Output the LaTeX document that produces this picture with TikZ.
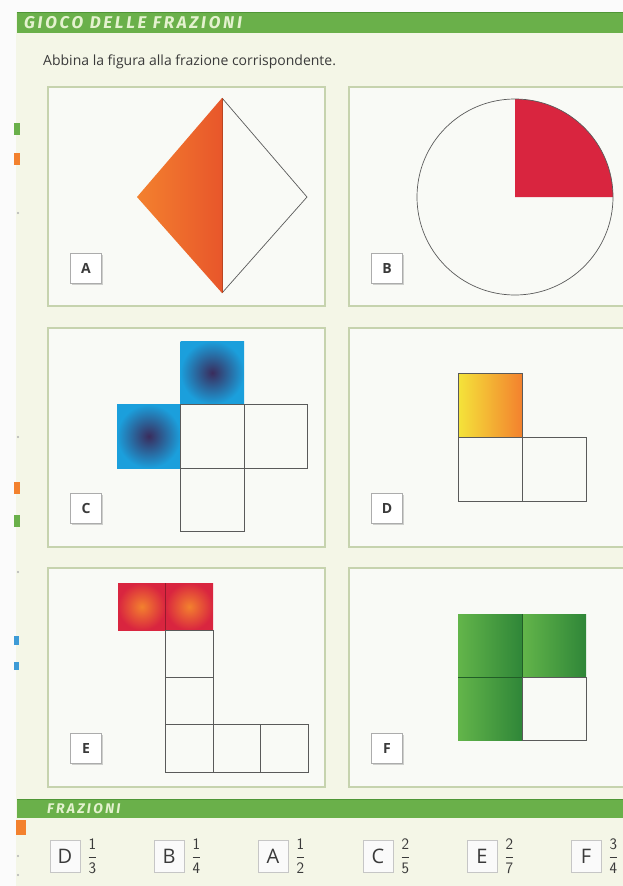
\documentclass[tikz,border=0pt]{standalone}
\usepackage{fontspec}
\setmainfont{Open Sans}
\newfontfamily\titolofont[LetterSpace=16]{Fira Sans}
\usetikzlibrary{shadows}
\usetikzlibrary{positioning}
\definecolor{pagina}{HTML}{F4F6E7}
\definecolor{barra}{HTML}{6AB04A}
\definecolor{barrascura}{HTML}{4F9636}
\definecolor{scrittabarra}{HTML}{E4F2CF}
\definecolor{bordo}{HTML}{C6D3AE}
\definecolor{fondoriq}{HTML}{F9FAF6}
\definecolor{linea}{HTML}{5A5A5A}
\definecolor{testo}{HTML}{3A3A3A}
\definecolor{arancio}{HTML}{F3812E}
\definecolor{arancioscuro}{HTML}{E8562B}
\definecolor{rosso}{HTML}{D9253F}
\definecolor{blu}{HTML}{1B9FDC}
\definecolor{viola}{HTML}{3A2C5C}
\definecolor{giallo}{HTML}{F4E43A}
\definecolor{verdechiaro}{HTML}{63B54A}
\definecolor{verdescuro}{HTML}{2F8638}
\definecolor{margblu}{HTML}{3E9BD6}
\newcommand{\cella}[4]{
\draw [cella] (#1,#2) rectangle ++(#3,#4);
}
\newcommand{\etichetta}[3]{
\node [etich] (lab#1) at (#2,#3) {#1};
}
\newcommand{\voce}[4]{
\node [etichb] (voce#1) at (#4,856) {#1};
\node [frazione, right=7pt of voce#1] (fraz#1) {$\displaystyle\frac{\mathsf{#2}}{\mathsf{#3}}$};
}
\begin{document}
\begin{tikzpicture}[x=1pt, y=-1pt,
  riquadro/.style = {draw=bordo, line width=1.4pt, fill=fondoriq},
  cella/.style = {draw=linea, line width=0.8pt},
  etich/.style = {draw=gray!65, fill=white, line width=0.6pt, minimum width=31pt, minimum height=30pt,
    inner sep=0pt, text=testo, font=\fontsize{14}{14}\selectfont\bfseries,
    drop shadow={shadow xshift=1.5pt, shadow yshift=-1.5pt, opacity=0.35}},
  etichb/.style = {draw=gray!45, fill=white!96!gray, line width=0.6pt, minimum width=30pt, minimum height=32pt,
    inner sep=0pt, text=testo, font=\fontsize{20}{20}\selectfont},
  frazione/.style = {inner sep=0pt, text=testo, font=\fontsize{16}{16}\selectfont}]
\useasboundingbox (0,0) rectangle (623,886);
% page
\fill [white!97!gray] (0,0) rectangle (623,886);
\fill [pagina] (16,12) rectangle (623,886);
% marks on the margin
\fill [barra] (14,123) rectangle (20,135);
\fill [arancio] (14,153) rectangle (20,165);
\fill [arancio] (14,482) rectangle (20,494);
\fill [barra] (14,515) rectangle (20,527);
\fill [margblu] (14,636) rectangle (19,645);
\fill [margblu] (14,662) rectangle (19,670);
\fill [arancio] (16,820) rectangle (26,835);
\foreach \y in {213,437,572,856,875}
  \fill [gray!60] (18,\y) circle [radius=1.2];
% title bars
\fill [barra] (17,12) rectangle (623,33);
\draw [barrascura, line width=1.2pt] (17,12.6) -- (623,12.6);
\node [anchor=west, inner sep=0pt, text=scrittabarra, font=\titolofont\fontsize{17}{17}\selectfont\bfseries\itshape]
  (titolo) at (24,23) {GIOCO DELLE FRAZIONI};
\node [anchor=west, inner sep=0pt, text=testo, font=\fontsize{14}{16}\selectfont]
  (consegna) at (43,62) {Abbina la figura alla frazione corrispondente.};
\fill [barra] (17,799) rectangle (623,818);
\draw [barrascura, line width=1pt] (17,799.5) -- (623,799.5);
\node [anchor=west, inner sep=0pt, text=scrittabarra, font=\titolofont\fontsize{14}{14}\selectfont\bfseries\itshape]
  (titolo2) at (47,809) {FRAZIONI};
% panels
\foreach \y in {87,328,568}
  {\draw [riquadro] (48,\y) rectangle (325,\y+219);
   \draw [riquadro] (349,\y) rectangle (630,\y+219);}
% A: diamond
\shade [left color=arancio, right color=arancioscuro] (137,197) -- (222,98) -- (222,293) -- cycle;
\draw [linea, line width=0.7pt] (222,98) -- (307,197) -- (222,293);
\draw [arancioscuro!80!black, line width=0.8pt] (222,98) -- (222,293);
\etichetta{A}{86}{268}
% B: circle
\fill [rosso] (515,197) -- (613,197) arc [start angle=0, end angle=-90, radius=98] -- cycle;
\draw [linea, line width=0.7pt] (515,197) circle [radius=98];
\etichetta{B}{387}{268}
% C
\foreach \i/\j in {1/0,0/1}
  \shade [inner color=viola, outer color=blu] (117+63.5*\i,341+63.5*\j) rectangle ++(63.5,63.5);
\foreach \i/\j in {1/1,2/1,1/2}
  {\cella{117+63.5*\i}{341+63.5*\j}{63.5}{63.5}}
\etichetta{C}{86}{508}
% D
\shade [left color=giallo, right color=arancio] (458,373) rectangle ++(64,64);
\foreach \i/\j in {0/0,0/1,1/1}
  {\cella{458+64*\i}{373+64*\j}{64}{64}}
\etichetta{D}{387}{508}
% E
\foreach \i in {0,1}
  \shade [inner color=arancio, outer color=rosso] (118+47.5*\i,583) rectangle ++(47.5,47.25);
\foreach \i/\j in {1/1,1/2,1/3,2/3,3/3}
  {\cella{118+47.5*\i}{583+47.25*\j}{47.5}{47.25}}
\draw [rosso!70!black, line width=0.6pt] (165.5,583) -- (165.5,630);
\etichetta{E}{86}{748}
% F
\foreach \i/\j in {0/0,1/0,0/1}
  \shade [left color=verdechiaro, right color=verdescuro] (458+64*\i,614+63*\j) rectangle ++(64,63);
\cella{522}{677}{64}{63}
\draw [verdescuro!70!black, line width=0.6pt] (458,677) -- (522,677) (522,614) -- (522,677);
\etichetta{F}{387}{748}
% answers
\foreach \l/\n/\d/\x in {D/1/3/65, B/1/4/169, A/1/2/273, C/2/5/378, E/2/7/482, F/3/4/586}
  {\voce{\l}{\n}{\d}{\x}}
\end{tikzpicture}
\end{document}
